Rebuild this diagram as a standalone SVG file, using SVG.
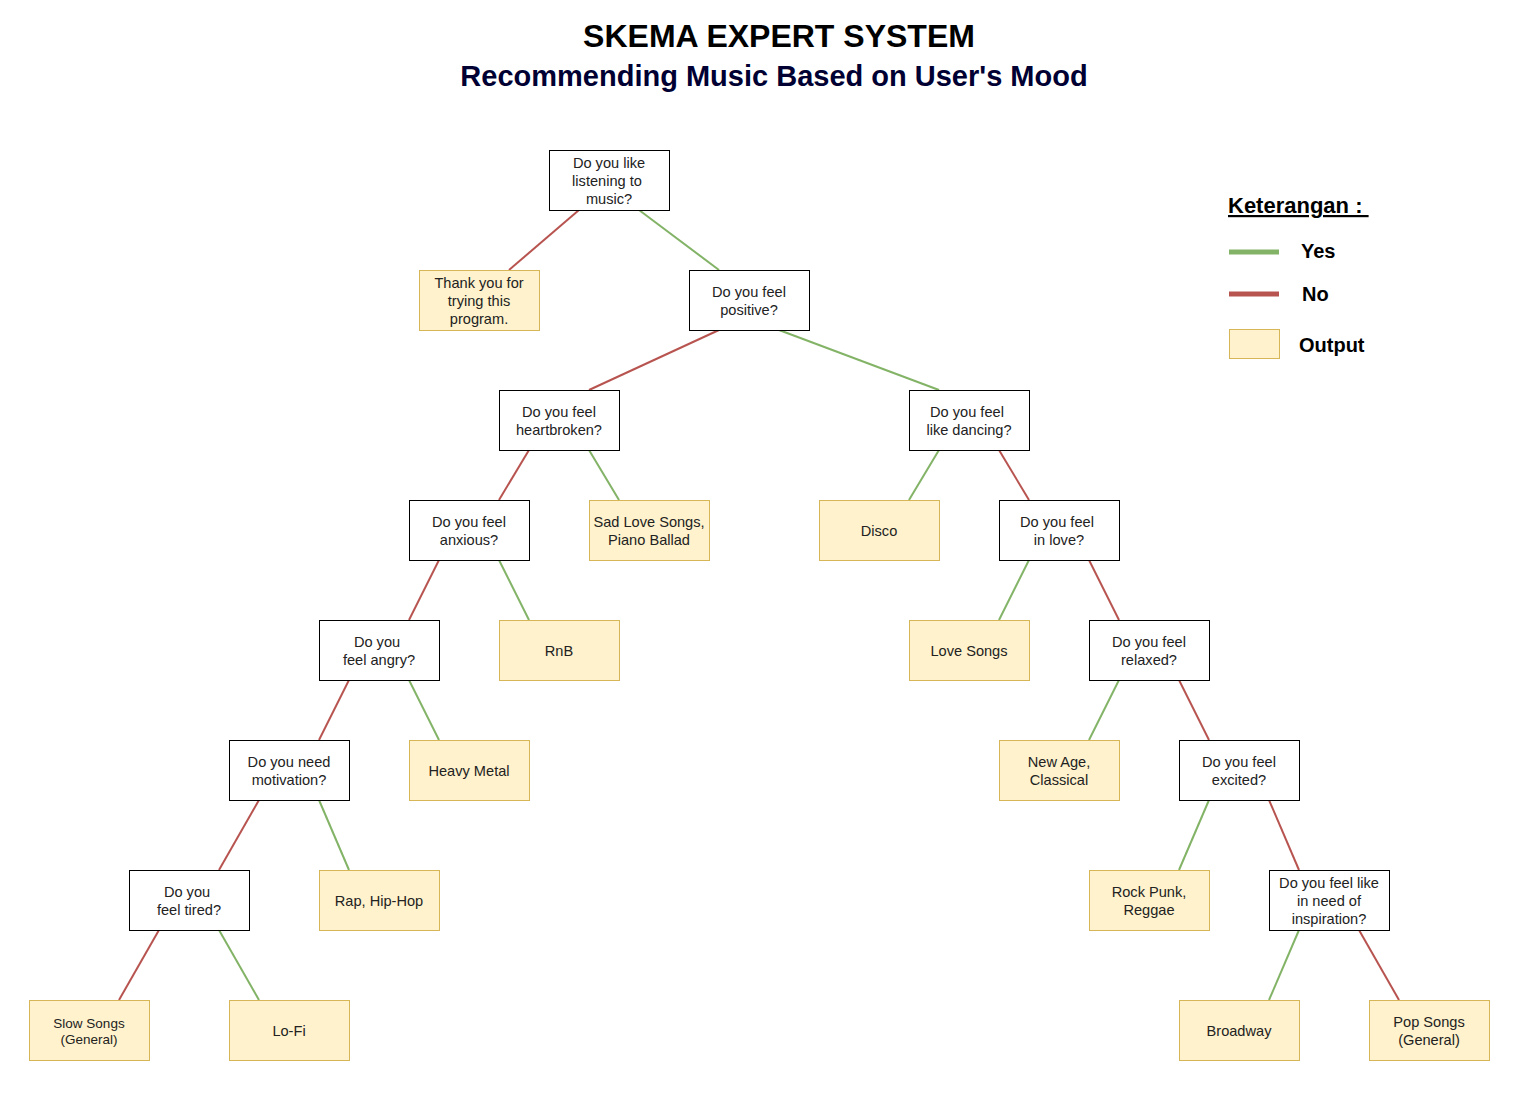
<svg xmlns="http://www.w3.org/2000/svg" width="1537" height="1103" viewBox="0 0 1537 1103">
<style>
.q{fill:#ffffff;stroke:#000000;stroke-width:1}
.o{fill:#fff2cc;stroke:#d6b656;stroke-width:1}
.t{font-family:"Liberation Sans",Arial,sans-serif;font-size:14.6px;fill:#222222;text-anchor:middle}
.y{stroke:#82b366;stroke-width:2;fill:none}
.n{stroke:#b85450;stroke-width:2;fill:none}
.lg{font-family:"Liberation Sans",Arial,sans-serif;font-size:20px;font-weight:bold;fill:#000000}
</style>
<rect width="1537" height="1103" fill="#ffffff"/>
<text x="779" y="47" font-family="'Liberation Sans',Arial,sans-serif" font-size="32" font-weight="bold" text-anchor="middle" fill="#000000">SKEMA EXPERT SYSTEM</text>
<text x="774" y="86" font-family="'Liberation Sans',Arial,sans-serif" font-size="29" font-weight="bold" text-anchor="middle" fill="#000033">Recommending Music Based on User's Mood</text>
<g id="connectors">
<line class="n" x1="579" y1="210" x2="509" y2="270"/>
<line class="y" x1="639" y1="210" x2="719" y2="270"/>
<line class="n" x1="719" y1="330" x2="589" y2="390"/>
<line class="y" x1="779" y1="330" x2="939" y2="390"/>
<line class="n" x1="529" y1="450" x2="499" y2="500"/>
<line class="y" x1="589" y1="450" x2="619" y2="500"/>
<line class="y" x1="939" y1="450" x2="909" y2="500"/>
<line class="n" x1="999" y1="450" x2="1029" y2="500"/>
<line class="n" x1="439" y1="560" x2="409" y2="620"/>
<line class="y" x1="499" y1="560" x2="529" y2="620"/>
<line class="y" x1="1029" y1="560" x2="999" y2="620"/>
<line class="n" x1="1089" y1="560" x2="1119" y2="620"/>
<line class="n" x1="349" y1="680" x2="319" y2="740"/>
<line class="y" x1="409" y1="680" x2="439" y2="740"/>
<line class="y" x1="1119" y1="680" x2="1089" y2="740"/>
<line class="n" x1="1179" y1="680" x2="1209" y2="740"/>
<line class="n" x1="259" y1="800" x2="219" y2="870"/>
<line class="y" x1="319" y1="800" x2="349" y2="870"/>
<line class="y" x1="1209" y1="800" x2="1179" y2="870"/>
<line class="n" x1="1269" y1="800" x2="1299" y2="870"/>
<line class="n" x1="159" y1="930" x2="119" y2="1000"/>
<line class="y" x1="219" y1="930" x2="259" y2="1000"/>
<line class="y" x1="1299" y1="930" x2="1269" y2="1000"/>
<line class="n" x1="1359" y1="930" x2="1399" y2="1000"/>
</g>
<g id="q-music"><rect class="q" x="549.5" y="150.5" width="120" height="60"/><text class="t" x="609" y="168">Do you like</text><text class="t" x="607" y="186">listening to</text><text class="t" x="609" y="204">music?</text></g>
<g id="o-thanks"><rect class="o" x="419.5" y="270.5" width="120" height="60"/><text class="t" x="479" y="288">Thank you for</text><text class="t" x="479" y="306">trying this</text><text class="t" x="479" y="324">program.</text></g>
<g id="q-positive"><rect class="q" x="689.5" y="270.5" width="120" height="60"/><text class="t" x="749" y="297">Do you feel</text><text class="t" x="749" y="315">positive?</text></g>
<g id="q-heartbroken"><rect class="q" x="499.5" y="390.5" width="120" height="60"/><text class="t" x="559" y="417">Do you feel</text><text class="t" x="559" y="435">heartbroken?</text></g>
<g id="q-dancing"><rect class="q" x="909.5" y="390.5" width="120" height="60"/><text class="t" x="967" y="417">Do you feel</text><text class="t" x="969" y="435">like dancing?</text></g>
<g id="q-anxious"><rect class="q" x="409.5" y="500.5" width="120" height="60"/><text class="t" x="469" y="527">Do you feel</text><text class="t" x="469" y="545">anxious?</text></g>
<g id="o-sad"><rect class="o" x="589.5" y="500.5" width="120" height="60"/><text class="t" x="649" y="527">Sad Love Songs,</text><text class="t" x="649" y="545">Piano Ballad</text></g>
<g id="o-disco"><rect class="o" x="819.5" y="500.5" width="120" height="60"/><text class="t" x="879" y="536">Disco</text></g>
<g id="q-inlove"><rect class="q" x="999.5" y="500.5" width="120" height="60"/><text class="t" x="1057" y="527">Do you feel</text><text class="t" x="1059" y="545">in love?</text></g>
<g id="q-angry"><rect class="q" x="319.5" y="620.5" width="120" height="60"/><text class="t" x="377" y="647">Do you</text><text class="t" x="379" y="665">feel angry?</text></g>
<g id="o-rnb"><rect class="o" x="499.5" y="620.5" width="120" height="60"/><text class="t" x="559" y="656">RnB</text></g>
<g id="o-love"><rect class="o" x="909.5" y="620.5" width="120" height="60"/><text class="t" x="969" y="656">Love Songs</text></g>
<g id="q-relaxed"><rect class="q" x="1089.5" y="620.5" width="120" height="60"/><text class="t" x="1149" y="647">Do you feel</text><text class="t" x="1149" y="665">relaxed?</text></g>
<g id="q-motivation"><rect class="q" x="229.5" y="740.5" width="120" height="60"/><text class="t" x="289" y="767">Do you need</text><text class="t" x="289" y="785">motivation?</text></g>
<g id="o-metal"><rect class="o" x="409.5" y="740.5" width="120" height="60"/><text class="t" x="469" y="776">Heavy Metal</text></g>
<g id="o-newage"><rect class="o" x="999.5" y="740.5" width="120" height="60"/><text class="t" x="1059" y="767">New Age,</text><text class="t" x="1059" y="785">Classical</text></g>
<g id="q-excited"><rect class="q" x="1179.5" y="740.5" width="120" height="60"/><text class="t" x="1239" y="767">Do you feel</text><text class="t" x="1239" y="785">excited?</text></g>
<g id="q-tired"><rect class="q" x="129.5" y="870.5" width="120" height="60"/><text class="t" x="187" y="897">Do you</text><text class="t" x="189" y="915">feel tired?</text></g>
<g id="o-rap"><rect class="o" x="319.5" y="870.5" width="120" height="60"/><text class="t" x="379" y="906">Rap, Hip-Hop</text></g>
<g id="o-rock"><rect class="o" x="1089.5" y="870.5" width="120" height="60"/><text class="t" x="1149" y="897">Rock Punk,</text><text class="t" x="1149" y="915">Reggae</text></g>
<g id="q-inspiration"><rect class="q" x="1269.5" y="870.5" width="120" height="60"/><text class="t" x="1329" y="888">Do you feel like</text><text class="t" x="1329" y="906">in need of</text><text class="t" x="1329" y="924">inspiration?</text></g>
<g id="o-slow"><rect class="o" x="29.5" y="1000.5" width="120" height="60"/><text class="t" x="89" y="1028" style="font-size:13.5px">Slow Songs</text><text class="t" x="89" y="1044" style="font-size:13.5px">(General)</text></g>
<g id="o-lofi"><rect class="o" x="229.5" y="1000.5" width="120" height="60"/><text class="t" x="289" y="1036">Lo-Fi</text></g>
<g id="o-broadway"><rect class="o" x="1179.5" y="1000.5" width="120" height="60"/><text class="t" x="1239" y="1036">Broadway</text></g>
<g id="o-pop"><rect class="o" x="1369.5" y="1000.5" width="120" height="60"/><text class="t" x="1429" y="1027">Pop Songs</text><text class="t" x="1429" y="1045">(General)</text></g>
<g id="legend">
<text class="lg" x="1228" y="213" style="font-size:22px" text-decoration="underline">Keterangan :&#160;</text>
<line x1="1229" y1="252" x2="1279" y2="252" stroke="#82b366" stroke-width="5"/>
<text class="lg" x="1301" y="258">Yes</text>
<line x1="1229" y1="294" x2="1279" y2="294" stroke="#b85450" stroke-width="5"/>
<text class="lg" x="1302" y="301">No</text>
<rect class="o" x="1229.5" y="329.5" width="50" height="29"/>
<text class="lg" x="1299" y="352">Output</text>
</g>
</svg>
